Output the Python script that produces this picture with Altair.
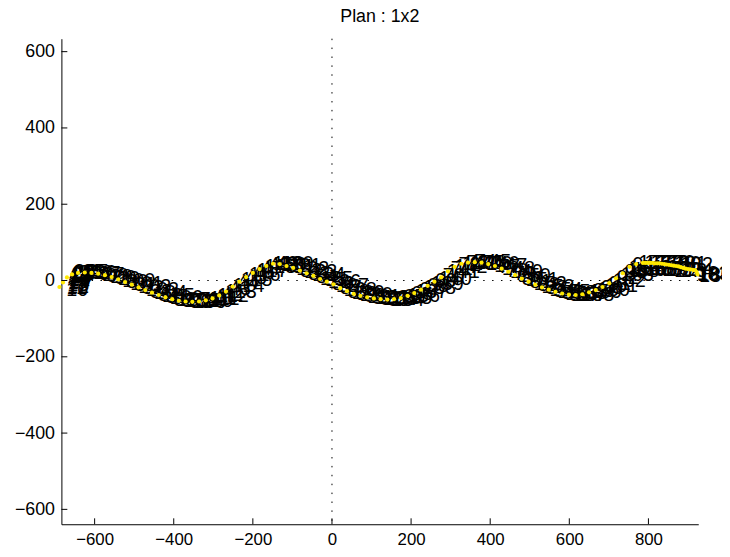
import altair as alt
import pandas as pd

title_text = "Plan : 1x2"
x_ticks = [-600, -400, -200, 0, 200, 400, 600, 800]
y_ticks = [-600, -400, -200, 0, 200, 400, 600]
x_domain = [-684, 926]
y_domain = [-639, 634]

yellow_x = [-689, -680, -670, -657, -642, -625, -608, -591, -574, -557, -540, -523, -506, -489,
            -472, -455, -438, -421, -404, -387, -370, -353, -336, -319, -302, -285, -268, -251,
            -234, -217, -200, -183, -166, -149, -132, -115, -98, -81, -64, -47, -30, -13, 4, 21,
            38, 55, 72, 89, 106, 123, 140, 157, 174, 191, 208, 225, 242, 259, 276, 293, 310, 327,
            344, 361, 378, 395, 412, 429, 446, 463, 480, 497, 514, 531, 548, 565, 582, 599, 616,
            633, 650, 667, 684, 701, 718, 735, 752, 769, 786, 792, 798, 804, 810, 816, 822, 828,
            834, 840, 846, 852, 858, 864, 870, 876, 882, 888, 894, 900, 906, 912, 918, 922, 924]
yellow_y = [-17, -5, 8, 16, 20, 21, 20, 18, 14, 9, 3, -4, -11, -18,
            -25, -32, -38, -44, -49, -53, -55, -56, -55, -52, -47, -39, -29, -16,
            -3, 9, 20, 30, 38, 44, 43, 38, 33, 26, 19, 12, 4, -3, -10, -20,
            -28, -35, -40, -44, -47, -49, -50, -49, -46, -40, -33, -24, -14, -3, 8, 24, 36, 44,
            47, 48, 47, 43, 38, 31, 23, 14, 5, -3, -11, -18, -24, -30, -34, -37, -38,
            -36, -31, -25, -17, -7, 6, 19, 36, 43, 46, 46, 46, 46, 46, 45, 45, 45,
            44, 43, 42, 41, 40, 39, 38, 37, 35, 33, 31, 30, 29, 28, 27, 22, 16]

# label anchors: start blob, two interleaved rows along the path, end cluster
label_x = [-672, -671, -670, -669, -668, -667, -666, -665, -663, -661, -659, -657, -655, -653,
           -640, -620, -600, -580, -560, -540, -520, -500, -480, -460, -440, -420, -400, -380,
           -360, -340, -320, -300, -280, -260, -240, -220, -200, -180, -160, -140, -120, -100,
           -80, -60, -40, -20, 0, 20, 40, 60, 80, 100, 120, 140, 160, 180, 200, 220, 240, 260,
           280, 300, 320, 340, 360, 380, 400, 420, 440, 460, 480, 500, 520, 540, 560, 580, 600,
           620, 640, 660, 680, 700, 720, 740, 760,
           -630, -610, -590, -570, -550, -530, -510, -490, -470, -450, -430, -410, -390, -370,
           -350, -330, -310, -290, -270, -250, -230, -210, -190, -170, -150, -130, -110, -90,
           -70, -50, -30, -10, 10, 30, 50, 70, 90, 110, 130, 150, 170, 190, 210, 230, 250, 270,
           290, 310, 330, 350, 370, 390, 410, 430, 450, 470, 490, 510, 530, 550, 570, 590, 610,
           630, 650, 670, 690, 710, 730, 750,
           745, 760, 775, 790, 805, 820, 835, 850, 865, 880,
           775, 790, 805, 820, 835, 850, 865, 880,
           922, 924, 926, 928]
label_y = [-24, -20, -16, -12, -8, -4, 0, 4, 8, 12, 15, 18, 20, 21,
           20, 21, 19, 15, 9, 3, -5, -13, -21, -30, -37, -44, -50, -54,
           -56, -55, -52, -46, -37, -22, -8, 7, 20, 31, 40, 44, 40, 34,
           26, 18, 9, 0, -9, -19, -29, -36, -42, -46, -49, -50, -49, -44, -36, -26, -15, -2,
           11, 29, 41, 46, 48, 47, 42, 35, 26, 16, 5, -5, -13, -20, -28, -34, -37,
           -38, -34, -28, -19, -9, 7, 23, 40,
           21, 20, 17, 12, 6, -1, -9, -17, -26, -33, -41, -47, -52, -55,
           -56, -54, -49, -42, -30, -15, 0, 13, 26, 36, 43, 43, 37, 30,
           22, 13, 4, -4, -14, -24, -33, -39, -44, -47, -49, -50, -47, -40, -31, -21, -9, 4,
           21, 36, 44, 47, 48, 44, 39, 31, 21, 11, 0, -9, -17, -24, -31, -36, -38,
           -37, -31, -24, -14, -1, 15, 33,
           24, 27, 29, 30, 30, 29, 28, 27, 26, 24,
           46, 47, 47, 46, 45, 44, 42, 40,
           17, 15, 13, 12]
label_text = [str(i) for i in range(10, len(label_x) + 10)]

W, H = 644, 491
FONT = "Liberation Sans"
FS = 18
LFS = 20

yellow_df = pd.DataFrame({"x": yellow_x, "y": yellow_y})
label_df = pd.DataFrame({"x": label_x, "y": label_y, "t": label_text})
xt_df = pd.DataFrame({"x": x_ticks})
yt_df = pd.DataFrame({"y": y_ticks})
zero_df = pd.DataFrame({"x": [0], "y": [0]})

xscale = alt.Scale(domain=x_domain, nice=False, zero=False)
yscale = alt.Scale(domain=y_domain, nice=False, zero=False)
xaxis = alt.Axis(values=x_ticks, title=None, grid=False, ticks=False, tickSize=0,
                 labelPadding=7, labelFontSize=17, domainColor="black", domainWidth=1)
yaxis = alt.Axis(values=y_ticks, title=None, grid=False, ticks=False, tickSize=0,
                 labelPadding=7, domainColor="black", domainWidth=1)

X = lambda f: alt.X(f, type="quantitative", scale=xscale, axis=xaxis)
Y = lambda f: alt.Y(f, type="quantitative", scale=yscale, axis=yaxis)

vzero = alt.Chart(zero_df).mark_rule(color="black", strokeDash=[1.5, 7.5], strokeWidth=1).encode(x=X("x"))
hzero = alt.Chart(zero_df).mark_rule(color="black", strokeDash=[1.5, 7.5], strokeWidth=1).encode(y=Y("y"))

texts = alt.Chart(label_df).mark_text(align="left", baseline="middle", font=FONT,
                                      fontSize=LFS, color="black").encode(
    x=X("x"), y=Y("y"), text="t:N")

yellow = alt.Chart(yellow_df).mark_circle(size=18, color="#ffe800", opacity=1).encode(
    x=X("x"), y=Y("y"))

xticks = alt.Chart(xt_df).mark_rule(color="black", strokeWidth=1).encode(
    x=X("x"), y=alt.value(H - 6), y2=alt.value(H))
yticks = alt.Chart(yt_df).mark_rule(color="black", strokeWidth=1).encode(
    y=Y("y"), x=alt.value(0), x2=alt.value(6))

chart = alt.layer(vzero, hzero, texts, yellow, xticks, yticks).properties(
    width=W, height=H,
    autosize=alt.AutoSizeParams(type="none"),
    padding={"left": 54, "top": 28, "right": 24, "bottom": 22},
    title=alt.TitleParams(title_text, font=FONT, fontSize=FS, fontWeight="normal",
                          color="black", anchor="middle", offset=12),
).configure_view(stroke=None).configure_axis(
    labelFont=FONT, labelFontSize=FS, labelColor="black"
)

chart.save("out.html", embed_options={"renderer": "svg", "actions": False})
